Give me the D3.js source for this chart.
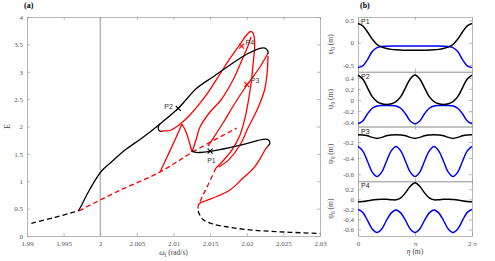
<!DOCTYPE html>
<html>
<head>
<meta charset="utf-8">
<script src="https://cdn.jsdelivr.net/npm/d3@7"></script>
<style>
  body { margin: 0; background: #fff; }
  text { font-family: "Liberation Serif", "Times New Roman", serif; }
  .tick text { fill: #555; font-size: 7px; }
  .tick line, .domain { stroke: #999; stroke-width: 0.7; }
</style>
</head>
<body>
<div id="chart"></div>
<script>
// ---- panel (a): E vs forcing frequency ----
const wTicks = [1.99, 1.995, 2, 2.005, 2.01, 2.015, 2.02, 2.025, 2.03];
const eTicks = [0, 0.5, 1, 1.5, 2, 2.5, 3, 3.5, 4];

const blackDashLeft = [[1.9906, 0.232], [1.9938, 0.34], [1.9961, 0.426], [1.9970, 0.457]];
const blackUpper = [[1.9970, 0.457], [1.99747, 0.566], [1.99815, 0.749], [1.99905, 0.962], [2.0001, 1.174],
  [2.00156, 1.357], [2.00338, 1.571], [2.00566, 1.784], [2.00816, 2.046], [2.01065, 2.332], [2.01316, 2.698],
  [2.01543, 2.910], [2.01771, 3.123], [2.01999, 3.319], [2.0218, 3.428], [2.0225, 3.43], [2.0229, 3.37], [2.0229, 3.33]];
const blackHook = [[2.0081, 2.05], [2.00792, 1.98], [2.0080, 1.93], [2.0084, 1.905]];
const blackLower = [[2.01253, 1.56], [2.0129, 1.53], [2.01362, 1.525], [2.01498, 1.544], [2.01676, 1.589],
  [2.01867, 1.644], [2.02044, 1.705], [2.02222, 1.766], [2.0229, 1.76], [2.02317, 1.70], [2.0229, 1.644]];
const blackDashRight = [[2.01337, 0.457], [2.01348, 0.415], [2.01403, 0.30], [2.01539, 0.219], [2.01771, 0.159],
  [2.02044, 0.110], [2.02317, 0.086], [2.0259, 0.068], [2.0300, 0.045]];

const redDashLeft = [[1.9971, 0.46], [2.0023, 0.81], [2.00816, 1.169], [2.0127, 1.54], [2.01862, 1.97]];
const redDashMid = [[2.0158, 1.242], [2.01471, 0.932], [2.01403, 0.749], [2.01348, 0.584]];
const redMain = [[2.0084, 1.905], [2.00857, 1.918], [2.00952, 1.927], [2.01075, 2.027], [2.01225, 2.21],
  [2.01375, 2.448], [2.01512, 2.703], [2.01635, 2.959], [2.01758, 3.215], [2.01853, 3.397], [2.01922, 3.525],
  [2.01976, 3.635], [2.02024, 3.708], [2.02051, 3.735], [2.02085, 3.708], [2.02106, 3.58], [2.02106, 3.397],
  [2.02092, 3.214], [2.02065, 2.849], [2.02024, 2.484], [2.01976, 2.155], [2.01908, 1.845], [2.01799, 1.571],
  [2.01662, 1.352], [2.0158, 1.242]];
const redBottom = [[2.0229, 1.644], [2.02249, 1.571], [2.0219, 1.43], [2.0210, 1.25], [2.01949, 1.059],
  [2.01771, 0.84], [2.01539, 0.694], [2.0143, 0.639], [2.0136, 0.60], [2.01337, 0.55], [2.01337, 0.50]];
const redCuspUp = [[2.00816, 1.169], [2.00925, 1.479], [2.0102, 1.753], [2.01116, 2.046]];
const redCuspDown = [[2.01116, 2.046], [2.01171, 1.90], [2.01253, 1.534]];
const redRise = [[2.01253, 1.534], [2.01307, 1.753], [2.01362, 1.991], [2.01498, 2.265], [2.01648, 2.484],
  [2.01812, 2.849], [2.01935, 3.215], [2.02017, 3.47], [2.02058, 3.635]];
const redP3 = [[2.0229, 3.342], [2.02181, 3.087], [2.02003, 2.758], [2.0184, 2.429], [2.01676, 2.064],
  [2.01526, 1.753], [2.0147, 1.64]];
const redRight = [[2.0229, 3.288], [2.02276, 2.941], [2.02235, 2.63], [2.0214, 2.301], [2.02017, 1.973],
  [2.01908, 1.662], [2.0176, 1.40], [2.0162, 1.26]];

const markers = [
  { name: "P1", w: 2.0150, e: 1.55, color: "#000" },
  { name: "P2", w: 2.01065, e: 2.33, color: "#000" },
  { name: "P3", w: 2.0200, e: 2.77, color: "#f00" },
  { name: "P4", w: 2.0193, e: 3.47, color: "#f00" }
];

// ---- panel (b): surface profiles ----
const etaDeg = [0, 15, 30, 45, 60, 75, 90, 105, 120, 135, 150, 165, 180,
  195, 210, 225, 240, 255, 270, 285, 300, 315, 330, 345, 360];
const etaTickLabels = ["0", "π", "2 π"];

const p1Black = [0.43, 0.38, 0.24, 0.08, -0.04, -0.10, -0.13, -0.15, -0.16, -0.165, -0.17, -0.17, -0.17,
  -0.17, -0.17, -0.165, -0.16, -0.15, -0.13, -0.10, -0.04, 0.08, 0.24, 0.38, 0.43];
const p1Blue = [-0.56, -0.52, -0.38, -0.20, -0.11, -0.085, -0.078, -0.075, -0.075, -0.075, -0.075, -0.075, -0.075,
  -0.075, -0.075, -0.075, -0.075, -0.075, -0.078, -0.085, -0.11, -0.20, -0.38, -0.52, -0.56];
const p2Black = [0.45, 0.38, 0.22, 0.06, -0.03, -0.07, -0.08, -0.07, -0.03, 0.06, 0.22, 0.38, 0.45,
  0.38, 0.22, 0.06, -0.03, -0.07, -0.08, -0.07, -0.03, 0.06, 0.22, 0.38, 0.45];
const p2Blue = [-0.43, -0.38, -0.25, -0.15, -0.11, -0.10, -0.10, -0.10, -0.11, -0.15, -0.25, -0.38, -0.43,
  -0.38, -0.25, -0.15, -0.11, -0.10, -0.10, -0.10, -0.11, -0.15, -0.25, -0.38, -0.43];
const p3Black = [-0.11, -0.112, -0.122, -0.142, -0.155, -0.142, -0.122, -0.112, -0.11, -0.112, -0.122, -0.142, -0.155,
  -0.142, -0.122, -0.112, -0.11, -0.112, -0.122, -0.142, -0.155, -0.142, -0.122, -0.112, -0.11];
const p3Blue = [-0.255, -0.31, -0.44, -0.575, -0.63, -0.575, -0.44, -0.31, -0.255, -0.31, -0.44, -0.575, -0.63,
  -0.575, -0.44, -0.31, -0.255, -0.31, -0.44, -0.575, -0.63, -0.575, -0.44, -0.31, -0.255];
const p4Black = [-0.05, -0.045, -0.03, -0.012, -0.002, 0.004, 0.0, -0.008, -0.01, 0.03, 0.13, 0.26, 0.33,
  0.26, 0.13, 0.03, -0.01, -0.008, 0.0, 0.004, -0.002, -0.012, -0.03, -0.045, -0.05];
const p4Blue = [-0.20, -0.26, -0.42, -0.59, -0.66, -0.59, -0.42, -0.27, -0.21, -0.27, -0.42, -0.59, -0.66,
  -0.59, -0.42, -0.27, -0.21, -0.27, -0.42, -0.59, -0.66, -0.59, -0.42, -0.26, -0.20];

const panels = [
  { name: "P1", black: p1Black, blue: p1Blue, domain: [-0.653, 0.578], ticks: [-0.5, 0, 0.5] },
  { name: "P2", black: p2Black, blue: p2Blue, domain: [-0.48, 0.51], ticks: [-0.4, -0.2, 0, 0.2, 0.4] },
  { name: "P3", black: p3Black, blue: p3Blue, domain: [-0.688, -0.007], ticks: [-0.6, -0.4, -0.2] },
  { name: "P4", black: p4Black, blue: p4Blue, domain: [-0.73, 0.36], ticks: [-0.6, -0.4, -0.2, 0, 0.2] }
];

const width = 495, height = 261;
const svg = d3.select("#chart").append("svg")
    .attr("width", width)
    .attr("height", height)
    .attr("viewBox", [0, 0, width, height]);

// ===== panel (a) =====
const aLeft = 27, aRight = 320, aTop = 17, aBottom = 236;
const x = d3.scaleLinear([1.99, 2.03], [aLeft, aRight]);
const y = d3.scaleLinear([0, 4], [aBottom, aTop]);

svg.append("g")
    .attr("transform", `translate(0,${aBottom})`)
    .call(d3.axisBottom(x).tickValues(wTicks).tickFormat(d => String(+d.toFixed(3)))
      .tickSizeInner(-3).tickSizeOuter(0).tickPadding(5));
svg.append("g")
    .attr("transform", `translate(0,${aTop})`)
    .call(d3.axisTop(x).tickValues(wTicks).tickFormat("").tickSizeInner(-3).tickSizeOuter(0));
svg.append("g")
    .attr("transform", `translate(${aLeft},0)`)
    .call(d3.axisLeft(y).tickValues(eTicks).tickFormat(d => String(d))
      .tickSizeInner(-3).tickSizeOuter(0).tickPadding(4));
svg.append("g")
    .attr("transform", `translate(${aRight},0)`)
    .call(d3.axisRight(y).tickValues(eTicks).tickFormat("").tickSizeInner(-3).tickSizeOuter(0));

// grey reference line at omega = 2
svg.append("line")
    .attr("x1", x(2)).attr("x2", x(2))
    .attr("y1", aTop).attr("y2", aBottom)
    .attr("stroke", "#a8a8a8").attr("stroke-width", 1.2);

const line = d3.line()
    .x(d => x(d[0]))
    .y(d => y(d[1]))
    .curve(d3.curveCatmullRom.alpha(0.5));

const curves = [
  { data: blackDashLeft, color: "#000", dash: "5,3" },
  { data: blackDashRight, color: "#000", dash: "5,3" },
  { data: redDashLeft, color: "#f00", dash: "5,3" },
  { data: redDashMid, color: "#f00", dash: "5,3" },
  { data: redMain, color: "#f00" },
  { data: redBottom, color: "#f00" },
  { data: redCuspUp, color: "#f00" },
  { data: redCuspDown, color: "#f00" },
  { data: redRise, color: "#f00" },
  { data: redP3, color: "#f00" },
  { data: redRight, color: "#f00" },
  { data: blackUpper, color: "#000" },
  { data: blackHook, color: "#000" },
  { data: blackLower, color: "#000" }
];

curves.forEach(c => {
  svg.append("path")
      .attr("d", line(c.data))
      .attr("fill", "none")
      .attr("stroke", c.color)
      .attr("stroke-width", 1.3)
      .attr("stroke-dasharray", c.dash || null);
});

// point markers
markers.forEach(m => {
  const cx = x(m.w), cy = y(m.e), s = 2.5;
  svg.append("path")
      .attr("d", `M${cx - s},${cy - s}L${cx + s},${cy + s}M${cx - s},${cy + s}L${cx + s},${cy - s}`)
      .attr("stroke", m.color).attr("stroke-width", 1.1);
});
const labelPos = { P1: [-3, 12], P2: [-14, 1], P3: [4, -1], P4: [4, -1] };
markers.forEach(m => {
  svg.append("text")
      .attr("x", x(m.w) + labelPos[m.name][0])
      .attr("y", y(m.e) + labelPos[m.name][1])
      .style("font-family", "'Liberation Sans', Arial, sans-serif")
      .style("font-size", "7px")
      .attr("fill", "#333")
      .text(m.name);
});

svg.append("text")
    .attr("x", 24).attr("y", 8)
    .style("font-size", "8px").style("font-weight", "bold")
    .text("(a)");
svg.append("text")
    .attr("transform", `translate(10,${(aTop + aBottom) / 2}) rotate(-90)`)
    .attr("text-anchor", "middle")
    .style("font-size", "8px").attr("fill", "#444")
    .text("E");
const xl = svg.append("text")
    .attr("x", (aLeft + aRight) / 2).attr("y", 255)
    .attr("text-anchor", "middle")
    .style("font-size", "7.5px").attr("fill", "#444");
xl.append("tspan").style("font-style", "italic").text("ω");
xl.append("tspan").attr("dy", 2).style("font-size", "5.5px").text("f");
xl.append("tspan").attr("dy", -2).text(" (rad/s)");

// ===== panel (b) =====
const bLeft = 358, bRight = 472, bTop = 17, bBottom = 236;
const ph = (bBottom - bTop) / panels.length;
const xe = d3.scaleLinear([0, 360], [bLeft, bRight]);

panels.forEach((p, i) => {
  const top = bTop + i * ph, bottom = top + ph;
  const yp = d3.scaleLinear(p.domain, [bottom, top]);
  const g = svg.append("g");

  g.append("g")
      .attr("transform", `translate(${bLeft},0)`)
      .call(d3.axisLeft(yp).tickValues(p.ticks).tickFormat(d => String(d))
        .tickSizeInner(-3).tickSizeOuter(0).tickPadding(4));
  g.append("g")
      .attr("transform", `translate(${bRight},0)`)
      .call(d3.axisRight(yp).tickValues(p.ticks).tickFormat("").tickSizeInner(-3).tickSizeOuter(0));
  g.append("g")
      .attr("transform", `translate(0,${top})`)
      .call(d3.axisTop(xe).tickValues([0, 180, 360]).tickFormat("").tickSizeInner(-3).tickSizeOuter(0));
  g.append("g")
      .attr("transform", `translate(0,${bottom})`)
      .call(d3.axisBottom(xe).tickValues([0, 180, 360])
        .tickFormat((d, k) => i === panels.length - 1 ? etaTickLabels[k] : "")
        .tickSizeInner(-3).tickSizeOuter(0).tickPadding(5));

  const pl = d3.line()
      .x((d, k) => xe(etaDeg[k]))
      .y(d => yp(d))
      .curve(d3.curveCatmullRom.alpha(0.5));
  g.append("path").attr("d", pl(p.blue))
      .attr("fill", "none").attr("stroke", "#0000ff").attr("stroke-width", 1.5);
  g.append("path").attr("d", pl(p.black))
      .attr("fill", "none").attr("stroke", "#000").attr("stroke-width", 1.5);

  g.append("text")
      .attr("x", bLeft + 3).attr("y", top + 7)
      .style("font-family", "'Liberation Sans', Arial, sans-serif")
      .style("font-size", "7px").attr("fill", "#222")
      .text(p.name);

  const yl = g.append("text")
      .attr("transform", `translate(333,${(top + bottom) / 2}) rotate(-90)`)
      .attr("text-anchor", "middle")
      .style("font-size", "7.5px").attr("fill", "#555");
  yl.append("tspan").text("ψ");
  yl.append("tspan").attr("dy", 2).style("font-size", "5.5px").text("0");
  yl.append("tspan").attr("dy", -2).text(" (m)");
});

svg.append("text")
    .attr("x", 360).attr("y", 8)
    .style("font-size", "8px").style("font-weight", "bold")
    .text("(b)");
const el = svg.append("text")
    .attr("x", (bLeft + bRight) / 2).attr("y", 254)
    .attr("text-anchor", "middle")
    .style("font-size", "7.5px").attr("fill", "#444");
el.append("tspan").style("font-style", "italic").text("η");
el.append("tspan").text(" (m)");
</script>
</body>
</html>
